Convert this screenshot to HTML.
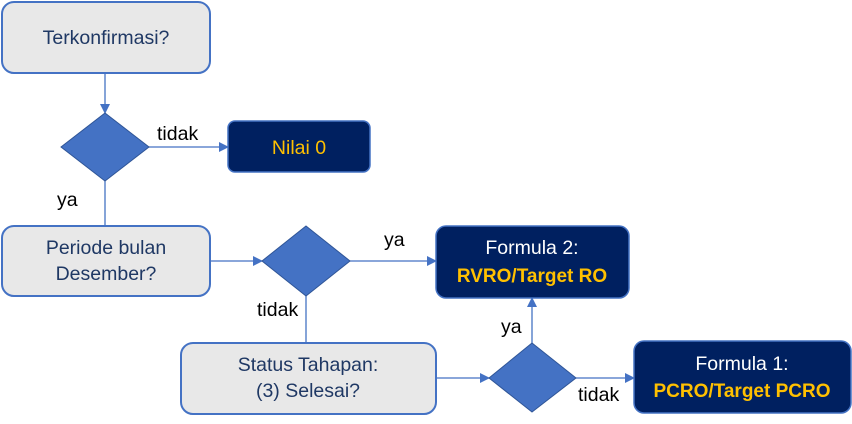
<!DOCTYPE html>
<html><head><meta charset="utf-8"><style>
body{margin:0;background:#fff;}
svg text{font-family:"Liberation Sans",sans-serif;}
</style></head><body>
<svg width="852" height="419" viewBox="0 0 852 419" xmlns="http://www.w3.org/2000/svg">
<defs><marker id="a" markerWidth="10" markerHeight="10" refX="9" refY="5" orient="auto" markerUnits="userSpaceOnUse"><path d="M0,0 L10,5 L0,10 z" fill="#4472c4"/></marker></defs>
<g stroke="#4472c4" stroke-width="1.3" fill="none">
<line x1="105" y1="73" x2="105" y2="113" marker-end="url(#a)"/>
<line x1="149" y1="147" x2="228" y2="147" marker-end="url(#a)"/>
<line x1="105" y1="181" x2="105" y2="225"/>
<line x1="210" y1="261" x2="262" y2="261" marker-end="url(#a)"/>
<line x1="350" y1="261" x2="436" y2="261" marker-end="url(#a)"/>
<line x1="306" y1="296" x2="306" y2="342"/>
<line x1="436" y1="378" x2="489" y2="378" marker-end="url(#a)"/>
<line x1="532" y1="343" x2="532" y2="298" marker-end="url(#a)"/>
<line x1="576" y1="378" x2="634" y2="378" marker-end="url(#a)"/>
</g>
<g stroke="#4472c4" stroke-width="2" fill="#e8e8e8">
<rect x="2" y="2" width="208" height="71" rx="12"/>
<rect x="2" y="226" width="208" height="70" rx="12"/>
<rect x="181" y="343" width="255" height="71" rx="12"/>
</g>
<g fill="#002060" stroke="#4472c4" stroke-width="1.5">
<rect x="228" y="121" width="142" height="51" rx="7"/>
<rect x="436" y="226" width="193" height="72" rx="10"/>
<rect x="634" y="341" width="217" height="72" rx="10"/>
</g>
<g fill="#4472c4" stroke="#2f5597" stroke-width="1">
<polygon points="105,113 149,147 105,181 61,147"/>
<polygon points="306,226 350,261 306,296 262,261"/>
<polygon points="532,343 576,378 532,412 489,378"/>
</g>
<g font-size="19.5" fill="#1f3864" text-anchor="middle">
<text x="106" y="44">Terkonfirmasi?</text>
<text x="106" y="254">Periode bulan</text>
<text x="106" y="280">Desember?</text>
<text x="308" y="371">Status Tahapan:</text>
<text x="308" y="397">(3) Selesai?</text>
</g>
<g font-size="19.5" fill="#000">
<text x="157" y="140">tidak</text>
<text x="57" y="206">ya</text>
<text x="384" y="246">ya</text>
<text x="257" y="316">tidak</text>
<text x="501" y="333">ya</text>
<text x="578" y="401">tidak</text>
</g>
<g text-anchor="middle" font-size="19.5">
<text x="299" y="154" fill="#ffc000">Nilai 0</text>
<text x="532" y="254" fill="#fff">Formula 2:</text>
<text x="532" y="282" fill="#ffc000" font-weight="bold" font-size="19">RVRO/Target RO</text>
<text x="742" y="370" fill="#fff">Formula 1:</text>
<text x="742" y="397" fill="#ffc000" font-weight="bold" font-size="19">PCRO/Target PCRO</text>
</g>
</svg>
</body></html>
